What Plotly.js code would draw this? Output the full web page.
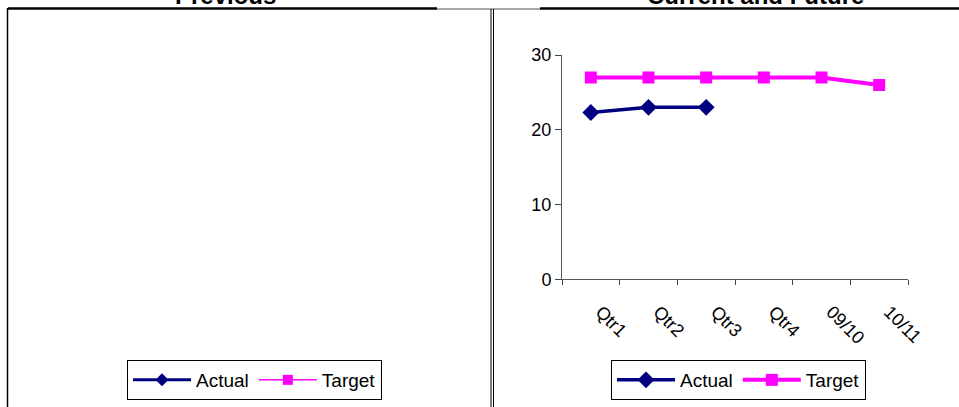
<!DOCTYPE html>
<html>
<head>
<meta charset="utf-8">
<script src="https://cdn.plot.ly/plotly-3.0.1.min.js"></script>
<style>html,body{margin:0;padding:0;background:#fff;}#chart{width:959px;height:407px;}</style>
</head>
<body>
<div id="chart"></div>
<script>
// ---- data ----
const categories = ["Qtr1", "Qtr2", "Qtr3", "Qtr4", "09/10", "10/11"];
const actualValues = [22.3, 23.0, 23.0, null, null, null];
const targetValues = [27, 27, 27, 27, 27, 26];
const prevCategories = ["Qtr1", "Qtr2", "Qtr3", "Qtr4"];
const prevActual = [null, null, null, null];
const prevTarget = [null, null, null, null];
const titleLeft = "Previous";
const titleRight = "Current and Future";
const yTicks = [0, 10, 20, 30];

// ---- layout helpers (page pixels -> paper fractions) ----
const W = 959, H = 407;
const px = x => x / W;
const py = y => 1 - y / H;
const FONT = "Liberation Sans, Arial, sans-serif";
const NAVY = "#000080", MAG = "#FF00FF";

const traces = [
  {x: categories, y: actualValues, name: "Actual", type: "scatter", mode: "lines+markers",
   xaxis: "x", yaxis: "y", legend: "legend",
   line: {color: NAVY, width: 3.5}, marker: {symbol: "diamond", size: 13, color: NAVY}},
  {x: categories, y: targetValues, name: "Target", type: "scatter", mode: "lines+markers",
   xaxis: "x", yaxis: "y", legend: "legend",
   line: {color: MAG, width: 4}, marker: {symbol: "square", size: 12, color: MAG}},
  {x: prevCategories, y: prevActual, name: "Actual", type: "scatter", mode: "lines+markers",
   xaxis: "x2", yaxis: "y2", legend: "legend2",
   line: {color: NAVY, width: 3}, marker: {symbol: "diamond", size: 10, color: NAVY}},
  {x: prevCategories, y: prevTarget, name: "Target", type: "scatter", mode: "lines+markers",
   xaxis: "x2", yaxis: "y2", legend: "legend2",
   line: {color: MAG, width: 1.5}, marker: {symbol: "square", size: 10, color: MAG}}
];

const lineStyle = (c, w) => ({color: c, width: w});
const shapes = [
  {type: "line", xref: "paper", yref: "paper", x0: px(8), x1: px(437), y0: py(8.5), y1: py(8.5), line: lineStyle("#000", 2.5)},
  {type: "line", xref: "paper", yref: "paper", x0: px(437), x1: px(540), y0: py(9), y1: py(9), line: lineStyle("#555", 1.2)},
  {type: "line", xref: "paper", yref: "paper", x0: px(540), x1: px(959), y0: py(8.5), y1: py(8.5), line: lineStyle("#000", 2.5)},
  {type: "line", xref: "paper", yref: "paper", x0: px(7.5), x1: px(7.5), y0: py(8), y1: py(407), line: lineStyle("#000", 1.5)},
  {type: "line", xref: "paper", yref: "paper", x0: px(491), x1: px(491), y0: py(9), y1: py(407), line: lineStyle("#000", 1)},
  {type: "line", xref: "paper", yref: "paper", x0: px(493.5), x1: px(493.5), y0: py(9), y1: py(407), line: lineStyle("#000", 1)}
];

const annotations = [
  {text: "<b>" + titleLeft + "</b>", xref: "paper", yref: "paper", x: px(225), y: py(10.5), xanchor: "center", yanchor: "bottom",
   showarrow: false, font: {family: FONT, size: 24, color: "#000"}},
  {text: "<b>" + titleRight + "</b>", xref: "paper", yref: "paper", x: px(755), y: py(10.5), xanchor: "center", yanchor: "bottom",
   showarrow: false, font: {family: FONT, size: 24, color: "#000"}}
];

const legendBase = {
  orientation: "h", bgcolor: "#fff", bordercolor: "#000", borderwidth: 1,
  font: {family: FONT, size: 19, color: "#000"}, itemwidth: 58, xanchor: "left", yanchor: "top",
  tracegroupgap: 0, itemclick: false, itemdoubleclick: false
};

const layout = {
  width: W, height: H,
  margin: {l: 0, r: 0, t: 0, b: 0},
  paper_bgcolor: "#fff", plot_bgcolor: "#fff",
  font: {family: FONT, size: 18, color: "#000"},
  showlegend: true,
  xaxis: {
    domain: [px(562), px(908)], anchor: "y", type: "category",
    range: [-0.5, 5.5], tickson: "boundaries", ticks: "outside", ticklen: 5, tickcolor: "#444",
    showline: true, linecolor: "#555", linewidth: 1, showgrid: false, zeroline: false,
    tickangle: 45, ticklabelstandoff: 14, ticklabelshift: 10,
    tickfont: {family: FONT, size: 18, color: "#000"}, fixedrange: true
  },
  yaxis: {
    domain: [py(279.3), py(55)], anchor: "x",
    range: [0, 30], tickvals: yTicks, ticks: "outside", ticklen: 6, tickcolor: "#444",
    showline: true, linecolor: "#555", linewidth: 1, showgrid: false, zeroline: false,
    tickfont: {family: FONT, size: 18, color: "#000"}, fixedrange: true
  },
  xaxis2: {domain: [px(20), px(480)], anchor: "y2", visible: false, fixedrange: true},
  yaxis2: {domain: [py(279), py(55)], anchor: "x2", visible: false, range: [0, 30], fixedrange: true},
  legend: Object.assign({}, legendBase, {x: px(611), y: py(360)}),
  legend2: Object.assign({}, legendBase, {x: px(127), y: py(360)}),
  shapes: shapes,
  annotations: annotations
};

Plotly.newPlot("chart", traces, layout, {displayModeBar: false, staticPlot: true});
</script>
</body>
</html>
